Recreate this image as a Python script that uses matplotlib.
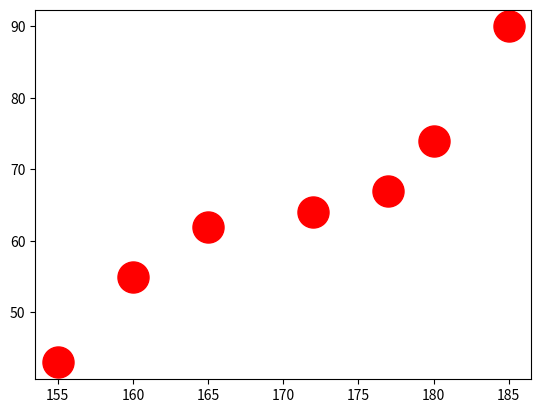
import matplotlib.pyplot as plt

plt.rcParams['font.family'] = ['Noto Sans CJK KR', 'DejaVu Sans']

height = [155, 160, 165, 172, 177, 180, 185]
weight = [43, 55, 62, 64, 67, 74, 90]

fig, ax = plt.subplots(figsize=(6.4, 4.8), dpi=100)
ax.scatter(height, weight, s=500, c='red')
fig.savefig('out.png', bbox_inches='tight')
